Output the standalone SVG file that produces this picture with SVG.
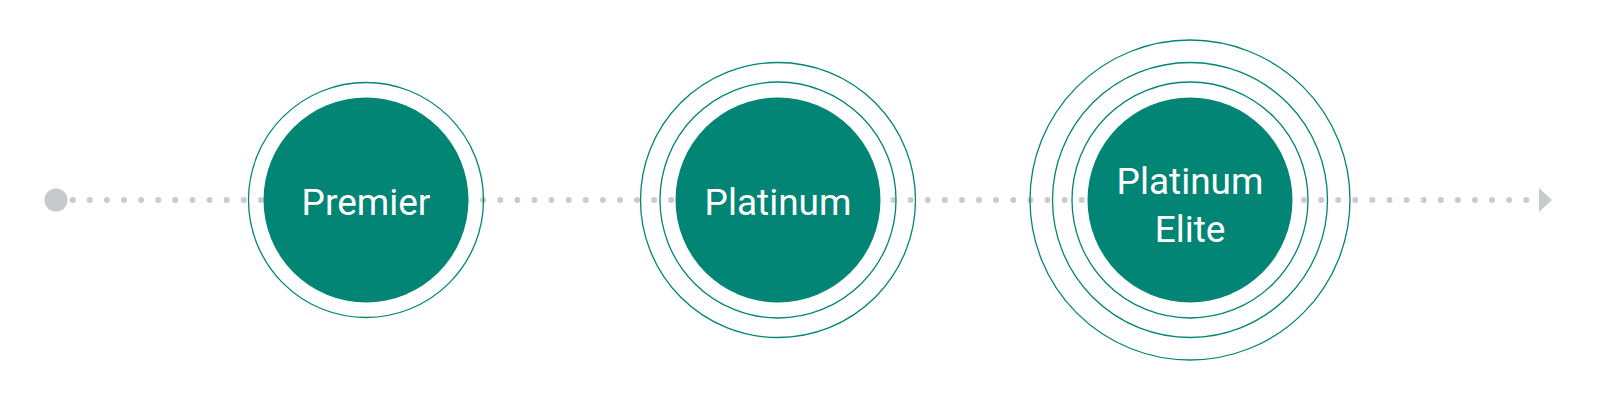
<svg xmlns="http://www.w3.org/2000/svg" width="1600" height="400" viewBox="0 0 1600 400">
  <style>
    .ring { fill: none; stroke: #028575; stroke-width: 1.3; }
    .core { fill: #028575; }
    .label { fill: #ffffff; font-family: Roboto, "Liberation Sans", sans-serif; font-size: 37px; text-anchor: middle; }
    .track { stroke: #cbcbcd; stroke-width: 6; stroke-linecap: round; stroke-dasharray: 0 17.101; fill: none; }
  </style>
  <rect width="1600" height="400" fill="#ffffff"/>
  <g id="connectors">
    <line class="track" x1="72.7" y1="200" x2="1526.3" y2="200"/>
    <circle cx="56" cy="200" r="11.5" fill="#c8c9cb"/>
    <polygon points="1539,188 1552,200 1539,212" fill="#c8c9cb"/>
  </g>
  <g id="premier">
    <circle class="ring" cx="366" cy="200" r="117.5"/>
    <circle class="core" cx="366" cy="200" r="102.5"/>
    <text class="label" x="366" y="215">Premier</text>
  </g>
  <g id="platinum">
    <circle class="ring" cx="778" cy="200" r="137.5"/>
    <circle class="ring" cx="778" cy="200" r="118"/>
    <circle class="core" cx="778" cy="200" r="102.5"/>
    <text class="label" x="778" y="215">Platinum</text>
  </g>
  <g id="platinum-elite">
    <circle class="ring" cx="1190" cy="200" r="160"/>
    <circle class="ring" cx="1190" cy="200" r="137.5"/>
    <circle class="ring" cx="1190" cy="200" r="118"/>
    <circle class="core" cx="1190" cy="200" r="102.5"/>
    <text class="label" x="1190" y="194">Platinum</text>
    <text class="label" x="1190" y="242">Elite</text>
  </g>
</svg>
